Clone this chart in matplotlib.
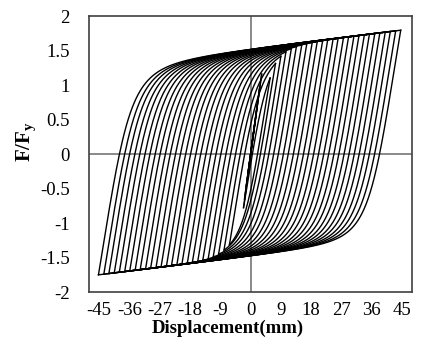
import numpy as np
import matplotlib
matplotlib.use('Agg')
import matplotlib.pyplot as plt

plt.rcParams['font.family'] = 'Liberation Serif'
plt.rcParams['mathtext.fontset'] = 'custom'
plt.rcParams['mathtext.bf'] = 'Liberation Serif:bold'
plt.rcParams['mathtext.rm'] = 'Liberation Serif'
plt.rcParams['axes.unicode_minus'] = False

# reversal points (mm)
init_pos = [1.2, 2.0, 2.7, 3.3]
init_neg = [-0.8, -1.3, -1.8, -2.1]
pos_amp = [5.8, 7.4, 9.0, 10.5, 12.1, 13.6, 15.2, 16.7, 18.3, 19.8, 21.4, 22.9, 24.5,
           26.0, 27.6, 29.1, 30.7, 32.2, 33.8, 35.3, 36.9, 38.4, 40.0, 41.5, 43.1, 44.6]
neg_amp = [-6.3, -7.9, -9.5, -11.1, -12.6, -14.2, -15.7, -17.3, -18.8, -20.4, -21.9, -23.5, -25.0,
           -26.6, -28.1, -29.7, -31.2, -32.8, -34.3, -35.9, -37.4, -39.0, -40.5, -42.1, -43.6, -45.2]

# hardening lines of the envelope, F/Fy = a + b*x
top_a, bot_a, slope_b = 1.53, -1.48, 0.006

xticks = [-45, -36, -27, -18, -9, 0, 9, 18, 27, 36, 45]
yticks = [-2, -1.5, -1, -0.5, 0, 0.5, 1, 1.5, 2]


def branch(x_r, f_r, x_t, e0, r):
    # Menegotto-Pinto type branch from reversal (x_r, f_r) to x_t
    a = top_a if x_t > x_r else bot_a
    x0 = (a - f_r + e0 * x_r) / (e0 - slope_b)
    f0 = a + slope_b * x0
    xs = np.linspace(x_r, x_t, 300)
    xi = (xs - x_r) / (x0 - x_r)
    bb = slope_b / e0
    fs = f_r + (f0 - f_r) * (bb * xi + (1 - bb) * xi / (1 + xi ** r) ** (1 / r))
    return xs, fs


fig = plt.figure(figsize=(4.28, 3.51), dpi=100)
ax = fig.add_axes([0.208, 0.168, 0.755, 0.786])

ax.axhline(0, color='#808080', lw=1.3, zorder=1)
ax.axvline(0, color='#808080', lw=1.3, zorder=1)

xr, fr = 0.0, 0.0
targets = []
for p, n in zip(init_pos, init_neg):
    targets.append((p, 0.36, 10))
    targets.append((n, 0.36, 10))
for p, n in zip(pos_amp, neg_amp):
    targets.append((p, 0.30, 3.0))
    targets.append((n, 0.30, 3.4))
targets.append((pos_amp[-1] - 1.6, 0.30, 3.0))

for xt, e0, r in targets:
    xs, fs = branch(xr, fr, xt, e0, r)
    ax.plot(xs, fs, color='black', lw=1.0, zorder=2)
    xr, fr = xs[-1], fs[-1]

ax.set_xlim(-48, 48)
ax.set_ylim(-2, 2)
ax.set_xticks(xticks)
ax.set_yticks(yticks)
ax.set_yticklabels(['-2', '-1.5', '-1', '-0.5', '0', '0.5', '1', '1.5', '2'])
ax.tick_params(length=0, labelsize=13.5, pad=7)
ax.tick_params(axis='y', pad=14)
for s in ax.spines.values():
    s.set_color('#404040')
    s.set_linewidth(1.2)

ax.text(-0.195, 0.545, r'$\mathbf{F/F_y}$', transform=ax.transAxes, rotation=90,
        ha='center', va='center', fontsize=15)
ax.text(0.43, -0.13, 'Displacement(mm)', transform=ax.transAxes, ha='center', va='center',
        fontsize=13.5, fontweight='bold')

fig.savefig('out.png', dpi=100)
